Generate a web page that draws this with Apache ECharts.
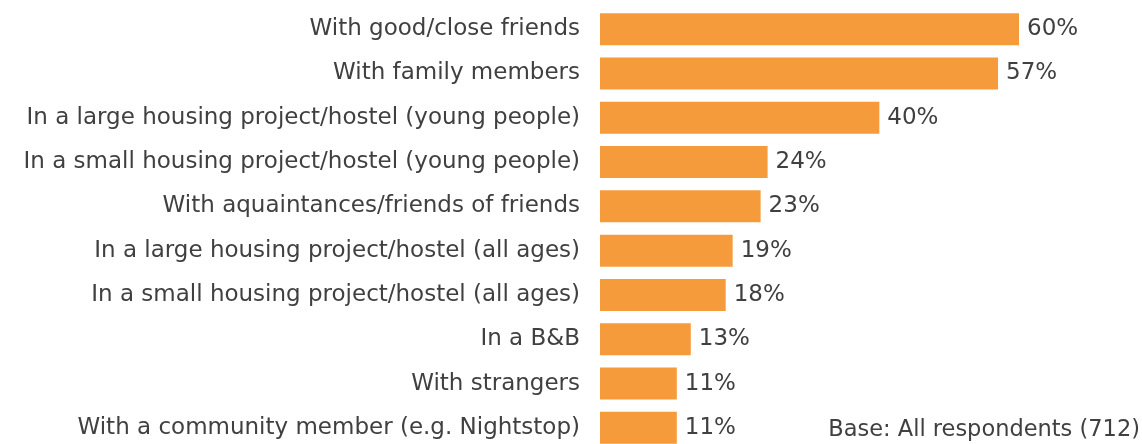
<!DOCTYPE html>
<html>
<head>
<meta charset="utf-8">
<script src="https://cdn.jsdelivr.net/npm/echarts@6/dist/echarts.min.js"></script>
<style>
  html, body { margin: 0; padding: 0; background: #fff; }
  #chart { width: 1142px; height: 444px; }
</style>
</head>
<body>
<div id="chart"></div>
<script>
// categories top to bottom
var categories = [
  'With good/close friends',
  'With family members',
  'In a large housing project/hostel (young people)',
  'In a small housing project/hostel (young people)',
  'With aquaintances/friends of friends',
  'In a large housing project/hostel (all ages)',
  'In a small housing project/hostel (all ages)',
  'In a B&B',
  'With strangers',
  'With a community member (e.g. Nightstop)'
];
var values = [60, 57, 40, 24, 23, 19, 18, 13, 11, 11];
var baseNote = 'Base: All respondents (712)';

var FONT = 'DejaVu Sans';
var myChart = echarts.init(document.getElementById('chart'));
myChart.setOption({
  animation: false,
  grid: { left: 600, top: 7, width: 419, height: 443, outerBoundsMode: 'none' },
  xAxis: {
    type: 'value',
    min: 0,
    max: 60,
    show: false
  },
  yAxis: {
    type: 'category',
    inverse: true,
    data: categories,
    axisLine: { show: false },
    axisTick: { show: false },
    axisLabel: {
      margin: 20,
      color: '#404040',
      fontFamily: FONT,
      fontSize: 23,
      padding: [4, 0, 0, 0]
    }
  },
  series: [{
    type: 'bar',
    data: values,
    barWidth: 32,
    itemStyle: { color: '#F59B3C' },
    label: {
      show: true,
      position: 'right',
      distance: 8,
      formatter: '{c}%',
      color: '#404040',
      fontFamily: FONT,
      fontSize: 23,
      padding: [4, 0, 0, 0]
    }
  }],
  graphic: [{
    type: 'text',
    right: 2,
    top: 419,
    style: {
      text: baseNote,
      fill: '#404040',
      font: '22.5px "' + FONT + '"'
    }
  }]
});
</script>
</body>
</html>
